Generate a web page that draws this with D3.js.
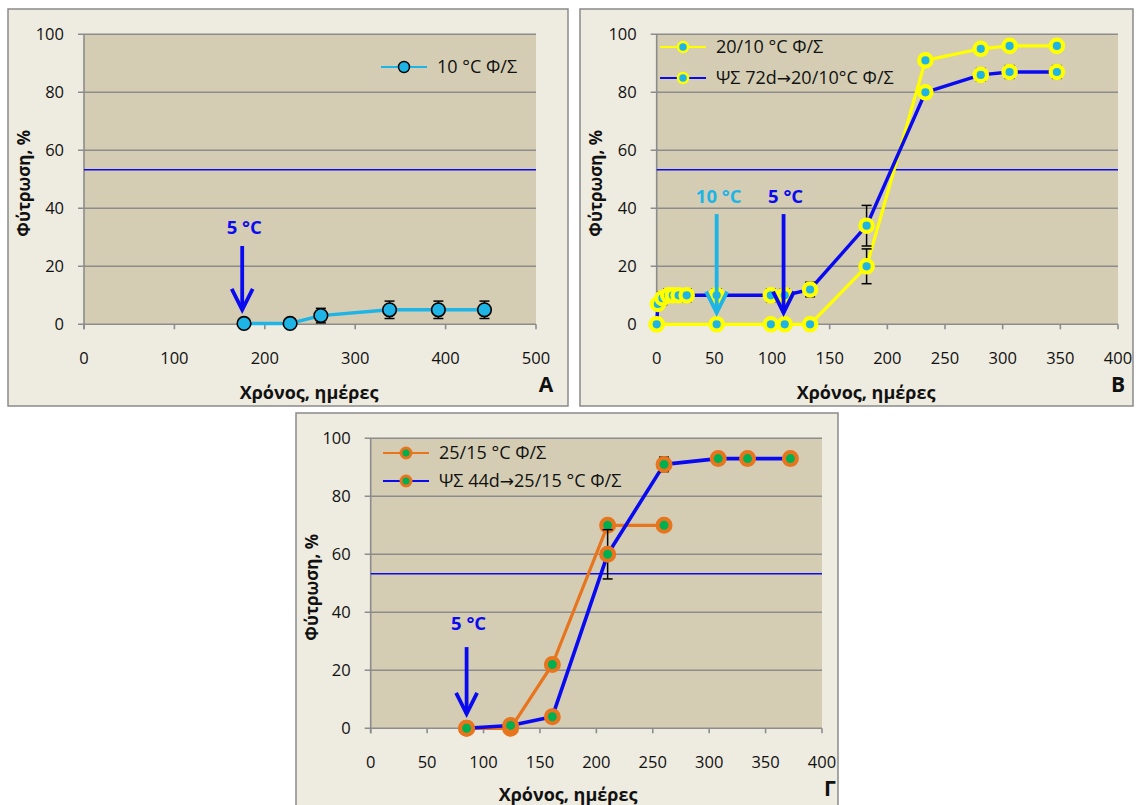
<!DOCTYPE html>
<html>
<head>
<meta charset="utf-8">
<script src="https://cdn.jsdelivr.net/npm/d3@7"></script>
<style>
  body { margin: 0; background: #ffffff; }
  svg { display: block; font-family: "Open Sans", "Noto Sans", sans-serif; }
</style>
</head>
<body>
<svg id="chart" width="1137" height="805"></svg>
<script>
// ---------- DATA ----------
// Panel A
const aDays = [177, 228, 262, 338, 392, 443];
const aGerm = [0.3, 0.3, 3, 5, 5, 5];
const aErr  = [0, 0, 2.5, 3, 3, 3];
const aLabel = "10 °C Φ/Σ";

// Panel B
const bDays1 = [0, 52, 99, 111, 133, 182, 233, 281, 306, 347];
const bGerm1 = [0, 0, 0, 0, 0, 20, 91, 95, 96, 96];
const bErr1  = [0, 0, 0, 0, 0, 6, 1, 1, 1, 1];
const bLabel1 = "20/10 °C Φ/Σ";
const bDays2 = [0, 1, 5, 10, 14, 19, 26, 52, 99, 111, 133, 182, 233, 281, 306, 347];
const bGerm2 = [0, 7, 9, 10, 10, 10, 10, 10, 10, 10, 12, 34, 80, 86, 87, 87];
const bErr2  = [0, 0, 2.2, 2.2, 2.2, 2.2, 2.2, 2.2, 2.2, 2.2, 2.5, 7, 1, 2.2, 2.2, 2.2];
const bLabel2 = "ΨΣ 72d→20/10°C Φ/Σ";

// Panel Γ
const cDays1 = [85, 124, 161, 210, 260];
const cGerm1 = [0, 0, 22, 70, 70];
const cErr1  = [0, 0, 1, 1, 0];
const cLabel1 = "25/15 °C Φ/Σ";
const cDays2 = [85, 124, 161, 210, 260, 308, 334, 372];
const cGerm2 = [0, 1, 4, 60, 91, 93, 93, 93];
const cErr2  = [0, 0, 0, 8.5, 2.5, 2, 2, 2];
const cLabel2 = "ΨΣ 44d→25/15 °C Φ/Σ";

// Reference line, ticks & arrows
const refLine = 53.3;
const yTicks = [0, 20, 40, 60, 80, 100];
const aXTicks = [0, 100, 200, 300, 400, 500];
const bXTicks = [0, 50, 100, 150, 200, 250, 300, 350, 400];
const cXTicks = [0, 50, 100, 150, 200, 250, 300, 350, 400];
const aArrows = [{day: 175, text: "5 °C", color: "#0a0af0"}];
const bArrows = [{day: 52, text: "10 °C", color: "#1eb4e6"}, {day: 110, text: "5 °C", color: "#0a0af0"}];
const cArrows = [{day: 85, text: "5 °C", color: "#0a0af0"}];

const yTitle = "Φύτρωση, %";
const xTitle = "Χρόνος, ημέρες";

// ---------- DRAW ----------
const svg = d3.select("#chart");
const BLUE = "#0a0af0", LBLUE = "#1eb4e6", YEL = "#ffff00", ORG = "#e8741e", GRN = "#00b050";

function panel(cfg) {
  const g = svg.append("g");
  g.append("rect").attr("x", cfg.box[0]).attr("y", cfg.box[1]).attr("width", cfg.box[2]).attr("height", cfg.box[3])
    .attr("fill", "#eeebe0").attr("stroke", "#8a8a8a").attr("stroke-width", 1.5);
  const x = d3.scaleLinear().domain(cfg.xDomain).range([cfg.plot[0], cfg.plot[1]]);
  const y = d3.scaleLinear().domain([0, 100]).range([cfg.plot[3], cfg.plot[2]]);
  g.append("rect").attr("x", cfg.plot[0]).attr("y", cfg.plot[2])
    .attr("width", cfg.plot[1] - cfg.plot[0]).attr("height", cfg.plot[3] - cfg.plot[2]).attr("fill", "#d4cdb4");
  // gridlines
  g.selectAll(".grid").data(yTicks).enter().append("line")
    .attr("x1", cfg.plot[0] - 6).attr("x2", cfg.plot[1]).attr("y1", d => y(d)).attr("y2", d => y(d))
    .attr("stroke", "#8c8c8c").attr("stroke-width", 1.6);
  // y axis line
  g.append("line").attr("x1", cfg.plot[0]).attr("x2", cfg.plot[0]).attr("y1", cfg.plot[2]).attr("y2", cfg.plot[3] + 5)
    .attr("stroke", "#8c8c8c").attr("stroke-width", 1.6);
  // x ticks
  g.selectAll(".xt").data(cfg.xTicks).enter().append("line")
    .attr("x1", d => x(d)).attr("x2", d => x(d)).attr("y1", cfg.plot[3]).attr("y2", cfg.plot[3] + 5)
    .attr("stroke", "#8c8c8c").attr("stroke-width", 1.6);
  // labels
  g.selectAll(".yl").data(yTicks).enter().append("text")
    .attr("x", cfg.plot[0] - 20).attr("y", d => y(d) + 6).attr("text-anchor", "end")
    .attr("font-size", 16.5).attr("fill", "#111").text(d => d);
  g.selectAll(".xl").data(cfg.xTicks).enter().append("text")
    .attr("x", d => x(d)).attr("y", cfg.plot[3] + 40).attr("text-anchor", "middle")
    .attr("font-size", 16.5).attr("fill", "#111").text(d => d);
  // axis titles
  const yc = (cfg.plot[2] + cfg.plot[3]) / 2 + 4;
  g.append("text").attr("transform", `translate(${cfg.box[0] + 22},${yc}) rotate(-90)`)
    .attr("text-anchor", "middle").attr("font-size", 17).attr("font-weight", "bold").attr("fill", "#111").text(yTitle);
  g.append("text").attr("x", cfg.titleX).attr("y", cfg.plot[3] + cfg.titleDy).attr("text-anchor", "middle")
    .attr("font-size", 18).attr("font-weight", "bold").attr("fill", "#111").text(xTitle);
  g.append("text").attr("x", cfg.letterX).attr("y", cfg.plot[3] + 68).attr("text-anchor", "middle")
    .attr("font-size", 21).attr("font-weight", "bold").attr("fill", "#111").text(cfg.letter);
  // reference line
  g.append("line").attr("x1", cfg.plot[0]).attr("x2", cfg.plot[1]).attr("y1", y(refLine)).attr("y2", y(refLine))
    .attr("stroke", BLUE).attr("stroke-width", 1.6);

  // series
  cfg.series.forEach(s => {
    const pts = s.days.map((d, i) => ({x: d, y: s.germ[i], e: s.err[i]}));
    g.append("path").datum(pts)
      .attr("d", d3.line().x(d => x(d.x)).y(d => y(d.y)))
      .attr("fill", "none").attr("stroke", s.line).attr("stroke-width", s.lw || 3.2).attr("stroke-linejoin", "round");
    pts.filter(p => p.e > 0).forEach(p => {
      const px = x(p.x);
      g.append("line").attr("x1", px).attr("x2", px).attr("y1", y(p.y - p.e)).attr("y2", y(p.y + p.e))
        .attr("stroke", "#000").attr("stroke-width", 1.5);
      [p.y - p.e, p.y + p.e].forEach(v => g.append("line").attr("x1", px - 5).attr("x2", px + 5)
        .attr("y1", y(v)).attr("y2", y(v)).attr("stroke", "#000").attr("stroke-width", 1.5));
    });
    g.selectAll(null).data(pts).enter().append("circle")
      .attr("cx", d => x(d.x)).attr("cy", d => y(d.y)).attr("r", s.r)
      .attr("fill", s.fill).attr("stroke", s.mstroke).attr("stroke-width", s.msw);
  });

  // arrows
  cfg.arrows.forEach(a => {
    const ax = x(a.day);
    g.append("text").attr("x", ax + 2).attr("y", y(cfg.arrowText)).attr("text-anchor", "middle")
      .attr("font-size", 18.5).attr("font-weight", "bold").attr("fill", a.color).text(a.text);
    g.append("line").attr("x1", ax).attr("x2", ax).attr("y1", y(cfg.arrowTop)).attr("y2", y(cfg.arrowTip))
      .attr("stroke", a.color).attr("stroke-width", 3.8);
    g.append("path").attr("d", `M${ax - 10.5},${y(cfg.arrowTip) - 21} L${ax},${y(cfg.arrowTip)} L${ax + 10.5},${y(cfg.arrowTip) - 21}`)
      .attr("fill", "none").attr("stroke", a.color).attr("stroke-width", 3.8);
  });

  // legend
  cfg.series.forEach((s, i) => {
    const ly = cfg.legend[1] + i * cfg.legend[2];
    const lx = cfg.legend[0];
    g.append("line").attr("x1", lx).attr("x2", lx + 46).attr("y1", ly).attr("y2", ly)
      .attr("stroke", s.line).attr("stroke-width", 2.2);
    g.append("circle").attr("cx", lx + 23).attr("cy", ly).attr("r", s.lr)
      .attr("fill", s.fill).attr("stroke", s.mstroke).attr("stroke-width", s.lmsw);
    const t = g.append("text").attr("x", lx + 56).attr("y", ly + 6).attr("font-size", 18).attr("fill", "#111");
    const parts = s.label.split("→");
    parts.forEach((p, k) => {
      if (k > 0) t.append("tspan").attr("font-family", "DejaVu Sans").attr("font-size", 17).text("→");
      t.append("tspan").text(p);
    });
  });
}

panel({
  box: [8, 9, 560, 397], plot: [84, 536, 34.3, 324.3], xDomain: [0, 500], xTicks: aXTicks,
  titleX: 309, titleDy: 75, letterX: 546, letter: "A",
  arrows: aArrows, arrowText: 31, arrowTop: 27, arrowTip: 5,
  legend: [381, 67, 0],
  series: [{days: aDays, germ: aGerm, err: aErr, label: aLabel, line: LBLUE, fill: LBLUE, mstroke: "#000", msw: 1.6, r: 6.8, lr: 5.5, lmsw: 1.4, lw: 3.4}]
});

panel({
  box: [580, 9, 553, 397], plot: [656.7, 1118, 34.3, 324.3], xDomain: [0, 400], xTicks: bXTicks,
  titleX: 866, titleDy: 75, letterX: 1118, letter: "B",
  arrows: bArrows, arrowText: 42, arrowTop: 38, arrowTip: 4,
  legend: [660, 47, 31],
  series: [
    {days: bDays1, germ: bGerm1, err: bErr1, label: bLabel1, line: YEL, fill: LBLUE, mstroke: YEL, msw: 4.2, r: 6.2, lr: 5, lmsw: 2.5, lw: 3.2},
    {days: bDays2, germ: bGerm2, err: bErr2, label: bLabel2, line: BLUE, fill: LBLUE, mstroke: YEL, msw: 4.2, r: 6.2, lr: 5, lmsw: 2.5, lw: 3.4}
  ]
});

panel({
  box: [296, 413, 542, 400], plot: [370.7, 822, 438.3, 728.3], xDomain: [0, 400], xTicks: cXTicks,
  titleX: 568, titleDy: 73, letterX: 830, letter: "Γ",
  arrows: cArrows, arrowText: 34, arrowTop: 28, arrowTip: 5,
  legend: [383, 453, 28],
  series: [
    {days: cDays1, germ: cGerm1, err: cErr1, label: cLabel1, line: ORG, fill: GRN, mstroke: ORG, msw: 4, r: 6.5, lr: 5, lmsw: 3, lw: 3.2},
    {days: cDays2, germ: cGerm2, err: cErr2, label: cLabel2, line: BLUE, fill: GRN, mstroke: ORG, msw: 4, r: 6.5, lr: 5, lmsw: 3, lw: 3.6}
  ]
});
</script>
</body>
</html>
